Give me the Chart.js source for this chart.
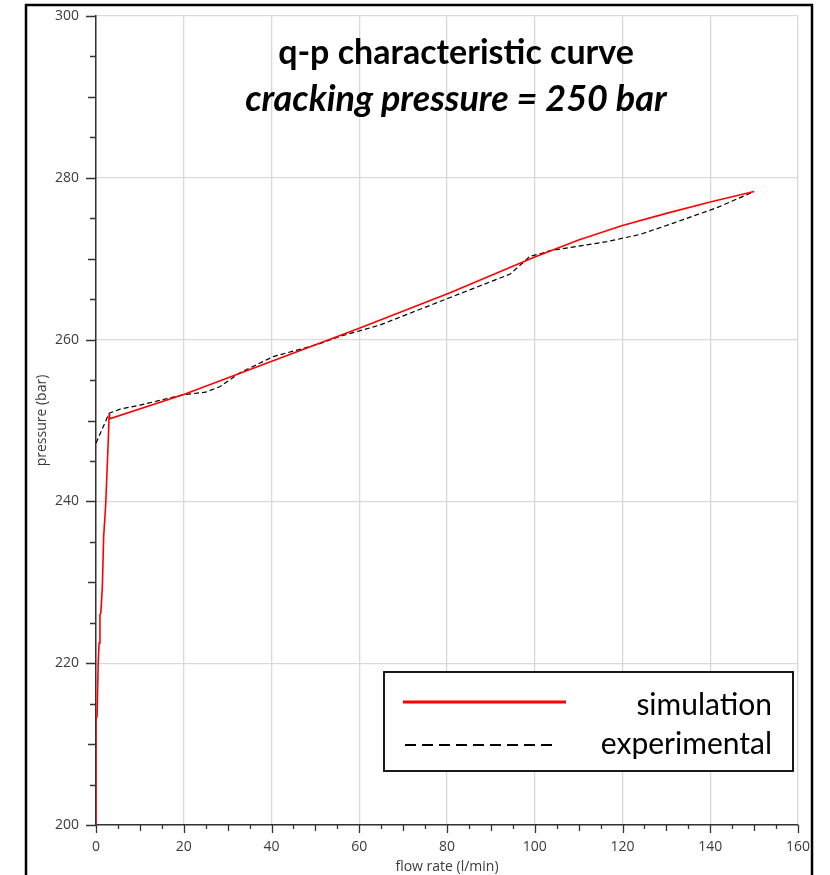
<!DOCTYPE html>
<html>
<head>
<meta charset="utf-8">
<title>q-p characteristic curve</title>
<script src="https://cdn.jsdelivr.net/npm/chart.js@4.4.1/dist/chart.umd.min.js"></script>
<style>
    html, body { margin: 0; padding: 0; background: #ffffff; }
    #wrap { position: relative; width: 830px; height: 875px; }
</style>
</head>
<body>
<div id="wrap"><canvas id="qpChart" width="830" height="875"></canvas></div>
<script>
// Flow rate (l/min) / pressure (bar) pairs
const simFlow = [0, 0, 0.25, 0.5, 0.7, 0.9, 1.1, 1.45, 1.75, 2.2, 2.5, 2.8, 3.0, 3.1, 20, 60, 80.7, 100, 110, 120, 130, 140, 150];
const simPressure = [200, 213, 213.5, 220, 222.5, 226, 226.2, 229.5, 235.7, 239.5, 243.5, 247.6, 250.8, 250.2, 253.2, 261.4, 265.8, 270.2, 272.3, 274.1, 275.6, 277.0, 278.3];

const expFlow = [0, 3, 5.5, 10, 20, 25, 28.3, 32.8, 37.4, 40.4, 46.5, 51, 55.6, 60.2, 64.7, 80.7, 94.4, 97.3, 98.9, 101.2, 103.5, 116.4, 124, 131.6, 141.5, 150];
const expPressure = [247.2, 250.9, 251.4, 251.9, 253.2, 253.5, 254.2, 255.9, 257.1, 257.9, 258.8, 259.5, 260.4, 261.1, 261.8, 265.2, 268.1, 269.5, 270.3, 270.6, 271.0, 272.1, 273.0, 274.4, 276.3, 278.3];

const seriesNames = ['simulation', 'experimental'];
const titleLines = ['q-p characteristic curve', 'cracking pressure = 250 bar'];

const xTicks = [0, 20, 40, 60, 80, 100, 120, 140, 160];
const yTicks = [200, 220, 240, 260, 280, 300];

const labelFont = "'Open Sans', 'Noto Sans', sans-serif";
const headFont = "Lato, 'Noto Sans', sans-serif";

function toPoints(xs, ys) {
    return xs.map((x, i) => ({ x: x, y: ys[i] }));
}

// White page with the black frame around everything
const framePlugin = {
    id: 'frame',
    beforeDraw(chart) {
        const ctx = chart.ctx;
        ctx.save();
        ctx.fillStyle = '#ffffff';
        ctx.fillRect(0, 0, chart.width, chart.height);
        ctx.strokeStyle = '#000000';
        ctx.lineWidth = 2.5;
        ctx.strokeRect(26, 5, 786, 900);
        ctx.restore();
    }
};

// Tick marks every 5 units, longer on 10s and 20s
const minorTicksPlugin = {
    id: 'minorTicks',
    afterDraw(chart) {
        const ctx = chart.ctx;
        const xs = chart.scales.x;
        const ys = chart.scales.y;
        const area = chart.chartArea;
        ctx.save();
        ctx.strokeStyle = '#333333';
        ctx.lineWidth = 1.3;
        ctx.beginPath();
        for (let v = xs.min; v <= xs.max; v += 5) {
            const px = Math.round(xs.getPixelForValue(v)) + 0.5;
            const len = v % 20 === 0 ? 8 : (v % 10 === 0 ? 6 : 4);
            ctx.moveTo(px, area.bottom);
            ctx.lineTo(px, area.bottom + len);
        }
        for (let v = ys.min; v <= ys.max; v += 5) {
            const py = Math.round(ys.getPixelForValue(v)) + 0.5;
            const len = v % 20 === 0 ? 10 : (v % 10 === 0 ? 8 : 6);
            ctx.moveTo(area.left, py);
            ctx.lineTo(area.left - len, py);
        }
        ctx.stroke();
        ctx.restore();
    }
};

// Two-line heading inside the plot
const headingPlugin = {
    id: 'heading',
    afterDraw(chart) {
        const ctx = chart.ctx;
        ctx.save();
        ctx.fillStyle = '#000000';
        ctx.textAlign = 'center';
        ctx.textBaseline = 'alphabetic';
        ctx.font = 'bold 34px ' + headFont;
        ctx.fillText(titleLines[0], 456, 64);
        ctx.font = 'italic bold 36px ' + headFont;
        ctx.fillText(titleLines[1], 456, 111);
        ctx.restore();
    }
};

// Boxed legend in the lower right corner
const boxLegendPlugin = {
    id: 'boxLegend',
    afterDraw(chart) {
        const ctx = chart.ctx;
        const sets = chart.data.datasets;
        ctx.save();
        ctx.fillStyle = '#ffffff';
        ctx.fillRect(384, 672, 409, 99);
        ctx.strokeStyle = '#000000';
        ctx.lineWidth = 1.8;
        ctx.strokeRect(384, 672, 409, 99);

        ctx.lineWidth = 3;
        ctx.strokeStyle = sets[0].borderColor;
        ctx.beginPath();
        ctx.moveTo(403, 702);
        ctx.lineTo(566, 702);
        ctx.stroke();

        ctx.lineWidth = 2;
        ctx.strokeStyle = sets[1].borderColor;
        ctx.setLineDash([11, 6]);
        ctx.beginPath();
        ctx.moveTo(405, 745);
        ctx.lineTo(558, 745);
        ctx.stroke();
        ctx.setLineDash([]);

        ctx.fillStyle = '#000000';
        ctx.font = '30px ' + headFont;
        ctx.textAlign = 'right';
        ctx.textBaseline = 'alphabetic';
        ctx.fillText(sets[0].label, 772, 715);
        ctx.fillText(sets[1].label, 772, 754);
        ctx.restore();
    }
};

new Chart(document.getElementById('qpChart'), {
    type: 'line',
    data: {
        datasets: [
            {
                label: seriesNames[0],
                data: toPoints(simFlow, simPressure),
                borderColor: '#ff0000',
                borderWidth: 1.6,
                pointRadius: 0,
                tension: 0,
                fill: false
            },
            {
                label: seriesNames[1],
                data: toPoints(expFlow, expPressure),
                borderColor: '#000000',
                borderWidth: 1.2,
                borderDash: [5, 3],
                pointRadius: 0,
                tension: 0,
                fill: false
            }
        ]
    },
    options: {
        responsive: false,
        animation: false,
        layout: {
            padding: { left: 0, top: 16, right: 32, bottom: 0 }
        },
        plugins: {
            legend: { display: false },
            tooltip: { enabled: false }
        },
        scales: {
            x: {
                type: 'linear',
                min: 0,
                max: 160,
                afterFit: function (scale) { scale.height = 50; },
                afterBuildTicks: function (scale) {
                    scale.ticks = xTicks.map(v => ({ value: v }));
                },
                grid: {
                    color: '#d9d9d9',
                    lineWidth: 1.3,
                    drawTicks: false
                },
                border: { color: '#333333', width: 1.5 },
                ticks: {
                    padding: 14,
                    color: '#3a3a44',
                    font: { size: 14, family: labelFont }
                },
                title: {
                    display: true,
                    text: 'flow rate (l/min)',
                    color: '#3a3a44',
                    font: { size: 14, family: labelFont },
                    padding: { top: 0, bottom: 0 }
                }
            },
            y: {
                type: 'linear',
                min: 200,
                max: 300,
                afterFit: function (scale) {
                    scale.width = 96;
                    scale.paddingTop = 0;
                    scale.paddingBottom = 0;
                },
                afterBuildTicks: function (scale) {
                    scale.ticks = yTicks.map(v => ({ value: v }));
                },
                grid: {
                    color: '#d9d9d9',
                    lineWidth: 1.3,
                    drawTicks: false
                },
                border: { color: '#333333', width: 1.5 },
                ticks: {
                    padding: 17,
                    color: '#3a3a44',
                    font: { size: 14, family: labelFont }
                },
                title: {
                    display: true,
                    text: 'pressure (bar)',
                    color: '#3a3a44',
                    font: { size: 14, family: labelFont },
                    padding: { top: 34, bottom: 0 }
                }
            }
        }
    },
    plugins: [framePlugin, minorTicksPlugin, headingPlugin, boxLegendPlugin]
});
</script>
</body>
</html>
